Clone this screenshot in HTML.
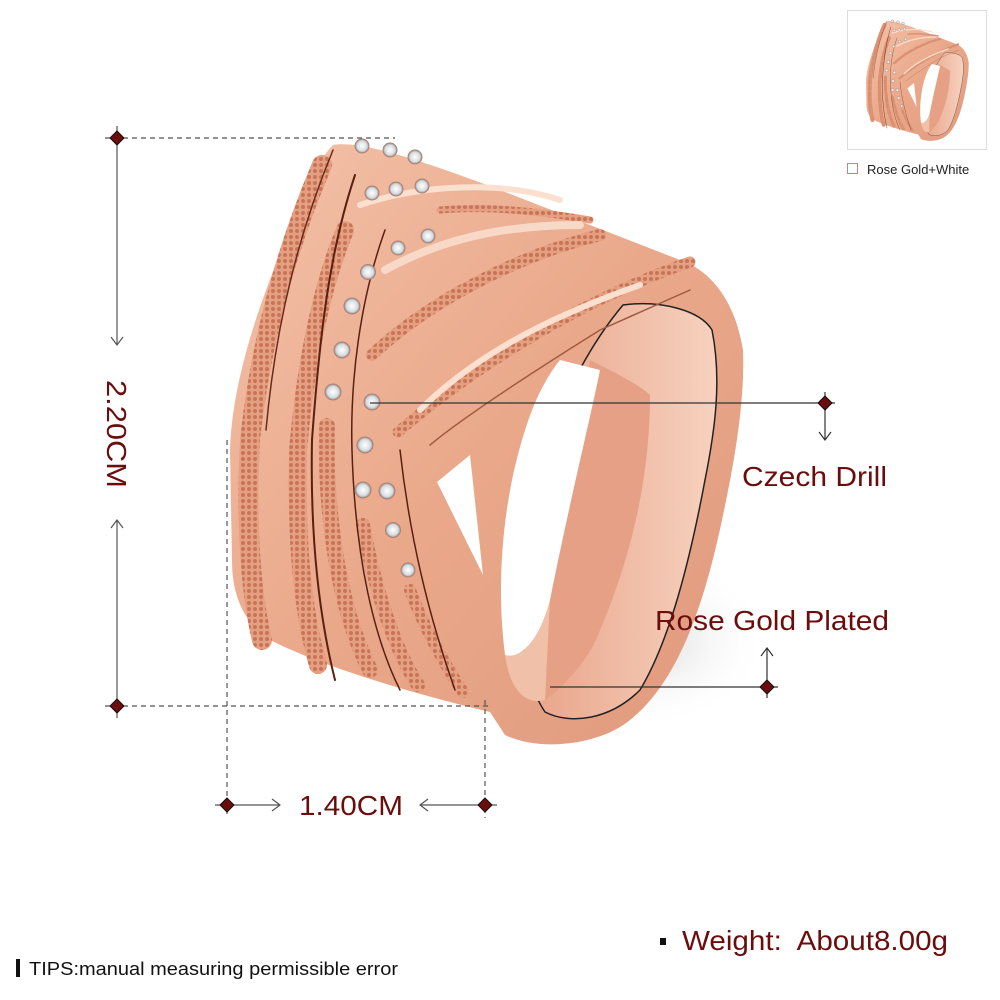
<!DOCTYPE html>
<html><head><meta charset="utf-8"><style>
html,body{margin:0;padding:0;background:#fff;}
svg{display:block}
</style></head><body>
<svg width="1000" height="1000" viewBox="0 0 1000 1000" xmlns="http://www.w3.org/2000/svg" xmlns:xlink="http://www.w3.org/1999/xlink" font-family="Liberation Sans, Arial, sans-serif">
<defs>
<linearGradient id="body" x1="0" y1="0" x2="1" y2="1">
<stop offset="0" stop-color="#f3c2a9"/><stop offset="0.5" stop-color="#eaa88a"/><stop offset="1" stop-color="#e09a7e"/>
</linearGradient>
<linearGradient id="inner" x1="0" y1="0" x2="1" y2="0">
<stop offset="0" stop-color="#e8a287"/><stop offset="1" stop-color="#f7d2bf"/>
</linearGradient>
<pattern id="dots" width="6" height="6" patternUnits="userSpaceOnUse">
<rect width="6" height="6" fill="#e4a080"/><circle cx="3" cy="3" r="2" fill="#c87458"/>
</pattern>
<radialGradient id="gem"><stop offset="0" stop-color="#ffffff"/><stop offset="0.7" stop-color="#d8dde0"/><stop offset="1" stop-color="#8f8f95"/></radialGradient>
<radialGradient id="shadow" cx="0.5" cy="0.5" r="0.5"><stop offset="0" stop-color="#bbb" stop-opacity="0.6"/><stop offset="1" stop-color="#fff" stop-opacity="0"/></radialGradient>
<g id="ring">
<path d="M333,145 C360,140 420,160 500,190 L680,260 C710,270 735,300 743,350 C745,400 735,460 722,520 C705,600 680,680 630,720 C600,745 540,752 505,735 L490,712 C420,695 330,670 270,640 C240,620 232,590 232,560 L230,450 C232,380 260,300 290,230 C305,190 318,160 333,145 Z" fill="url(#body)"/>
<path d="M623,305 C660,300 700,310 712,330 C722,380 715,430 705,480 C690,560 670,640 640,690 C610,720 570,725 545,712 C530,690 520,650 520,600 C520,500 560,380 623,305 Z" fill="url(#inner)" stroke="#222" stroke-width="1.5"/>
<path d="M590,360 C610,370 640,385 650,395 C650,480 630,560 600,630 C590,660 560,690 545,700 C540,650 545,590 560,530 Z" fill="#e6a085"/>
<path d="M560,360 L600,370 C590,420 570,500 550,600 C540,640 520,660 505,655 C498,600 500,540 512,480 C525,420 540,385 560,360 Z" fill="#fff"/>
<path d="M437,482 L470,455 L483,575 Z" fill="#fff"/>
<path d="M505,655 C520,660 540,640 550,600 L545,700 C525,705 510,690 505,655 Z" fill="#f0c0a8"/>
<g fill="none" stroke-linecap="round">
<path d="M322,165 C290,240 262,330 250,440 C246,520 250,590 262,640" stroke="url(#dots)" stroke-width="20"/>
<path d="M345,230 C320,290 305,370 298,450 C296,540 302,610 318,665" stroke="url(#dots)" stroke-width="18"/>
<path d="M327,426 C325,500 335,600 370,670" stroke="url(#dots)" stroke-width="16"/>
<path d="M363,525 C375,590 395,650 418,685" stroke="url(#dots)" stroke-width="14"/>
<path d="M410,590 C425,630 445,665 463,692" stroke="url(#dots)" stroke-width="12"/>
<path d="M372,355 C430,300 520,255 600,235" stroke="url(#dots)" stroke-width="12"/>
<path d="M398,432 C470,370 580,300 690,262" stroke="url(#dots)" stroke-width="11"/>
<path d="M440,210 C500,205 560,215 590,220" stroke="url(#dots)" stroke-width="7"/>
<path d="M333,150 C300,230 276,320 266,430" stroke="#6a2a1a" stroke-width="1.5"/>
<path d="M355,175 C330,250 320,330 312,440 C310,540 320,620 335,680" stroke="#5a2010" stroke-width="2"/>
<path d="M385,230 C360,300 350,380 352,450 C355,560 375,640 400,690" stroke="#5a2010" stroke-width="1.5"/>
<path d="M400,450 C410,540 430,620 455,690" stroke="#5a2010" stroke-width="1.5"/>
<path d="M430,445 C460,420 520,380 600,330 L690,290" stroke="#a05a40" stroke-width="1.5"/>
<path d="M420,410 C470,360 540,320 640,285" stroke="#fbe0d0" stroke-width="6"/>
<path d="M360,205 C420,185 500,180 560,200" stroke="#fbe0d0" stroke-width="6"/>
<path d="M385,270 C440,240 500,225 580,225" stroke="#f8d8c6" stroke-width="8"/>
</g>
<g fill="url(#gem)" stroke="#b08070" stroke-width="1">
<circle cx="362" cy="146" r="7"/><circle cx="390" cy="150" r="7"/><circle cx="415" cy="157" r="7"/>
<circle cx="372" cy="193" r="7"/><circle cx="396" cy="189" r="7"/><circle cx="422" cy="186" r="7"/>
<circle cx="428" cy="236" r="7"/><circle cx="398" cy="248" r="7"/><circle cx="368" cy="272" r="7.5"/>
<circle cx="352" cy="306" r="8"/><circle cx="342" cy="350" r="8"/><circle cx="333" cy="392" r="8"/>
<circle cx="372" cy="402" r="8"/><circle cx="365" cy="445" r="8"/><circle cx="363" cy="490" r="8"/>
<circle cx="387" cy="491" r="8"/><circle cx="393" cy="530" r="7.5"/><circle cx="408" cy="570" r="7"/>
</g>
</g>
</defs>

<ellipse cx="640" cy="640" rx="130" ry="90" fill="url(#shadow)"/>
<use xlink:href="#ring"/>

<g stroke="#555" stroke-width="1.2" fill="none">
<path d="M105,138 H395" stroke-dasharray="5,4"/>
<path d="M105,706 H490" stroke-dasharray="5,4"/>
<path d="M227,440 V818" stroke-dasharray="5,4"/>
<path d="M485,700 V818" stroke-dasharray="5,4"/>
<path d="M117,126 V345 M111,337 L117,345 L123,337"/>
<path d="M117,718 V520 M111,528 L117,520 L123,528"/>
<path d="M215,805 H280 M272,799 L280,805 L272,811"/>
<path d="M497,805 H420 M428,799 L420,805 L428,811"/>
<path d="M370,403 H835 M825,392 V440 M819,432 L825,440 L831,432" stroke="#333"/>
<path d="M550,687 H778 M767,698 V648 M761,656 L767,648 L773,656" stroke="#333"/>
</g>
<g fill="#6b0d0d" stroke="#111" stroke-width="1">
<path d="M117,131 L124,138 L117,145 L110,138 Z"/>
<path d="M117,699 L124,706 L117,713 L110,706 Z"/>
<path d="M227,798 L234,805 L227,812 L220,805 Z"/>
<path d="M485,798 L492,805 L485,812 L478,805 Z"/>
<path d="M825,396 L832,403 L825,410 L818,403 Z"/>
<path d="M767,680 L774,687 L767,694 L760,687 Z"/>
</g>

<g fill="#6b0d0d" font-size="28">
<text x="0" y="0" transform="translate(107,380) rotate(90)" textLength="108" lengthAdjust="spacingAndGlyphs">2.20CM</text>
<text x="299" y="815" textLength="104" lengthAdjust="spacingAndGlyphs">1.40CM</text>
<text x="742" y="486" textLength="145" lengthAdjust="spacingAndGlyphs">Czech Drill</text>
<text x="655" y="630" textLength="234" lengthAdjust="spacingAndGlyphs">Rose Gold Plated</text>
<text x="682" y="950" textLength="266" lengthAdjust="spacingAndGlyphs">Weight:&#160; About8.00g</text>
</g>
<rect x="660" y="938" width="6" height="7" fill="#111"/>
<rect x="16" y="959" width="4" height="18" fill="#111"/>
<text x="29" y="975" font-size="18" fill="#111" textLength="369" lengthAdjust="spacingAndGlyphs">TIPS:manual measuring permissible error</text>

<rect x="847.5" y="10.5" width="139" height="139" fill="#fff" stroke="#ddd"/>
<use xlink:href="#ring" transform="translate(820,-8) scale(0.2)"/>
<rect x="847.5" y="163.5" width="10" height="10" fill="#fff" stroke="#d08080"/>
<text x="867" y="174" font-size="13" fill="#222">Rose Gold+White</text>
</svg>
</body></html>
